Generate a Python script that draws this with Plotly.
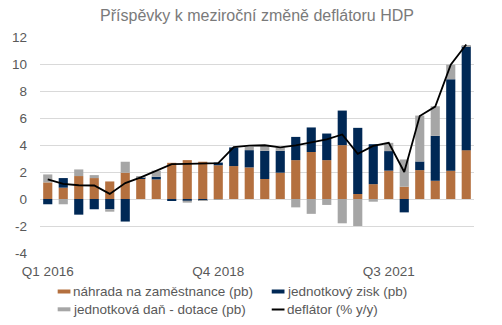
import plotly.graph_objects as go

# Quarterly contributions to the year-on-year change of the GDP deflator
quarters = [f"Q{q} {y}" for y in range(2016, 2023) for q in range(1, 5)]

compensation = [1.23, 0.84, 1.70, 1.55, 1.30, 1.95, 1.55, 1.45, 2.68, 2.88, 2.76, 2.50, 2.44, 2.34,
                1.48, 1.95, 2.88, 3.48, 2.88, 3.99, 0.37, 1.10, 2.10, 0.91, 2.14, 1.35, 2.10, 3.62]
unit_profit = [-0.39, 0.71, -1.16, -0.76, -0.76, -1.67, 0.05, 0.20, -0.08, -0.12, -0.08, 0.20, 1.38, 1.28,
               2.09, 1.62, 1.72, 1.82, 1.97, 2.56, 4.90, 2.96, 1.45, -0.99, 0.64, 3.33, 6.77, 7.71]
unit_tax = [0.59, -0.39, 0.49, 0.22, -0.18, 0.81, 0.05, 0.45, 0.00, -0.15, -0.05, -0.05, 0.00, 0.25,
            0.37, 0.25, -0.62, -1.10, -0.44, -1.80, -2.00, -0.20, 0.61, 2.02, 3.40, 2.19, 1.08, 0.05]
deflator = [1.45, 1.12, 1.02, 1.00, 0.38, 1.18, 1.60, 2.10, 2.58, 2.60, 2.60, 2.65, 3.85, 3.95,
            3.98, 3.82, 3.97, 4.20, 4.42, 4.78, 3.35, 3.93, 4.16, 2.00, 6.15, 6.85, 9.95, 11.45]

shown_ticks = ["Q1 2016", "Q4 2018", "Q3 2021"]
y_ticks = list(range(-4, 13, 2))
y_tick_text = [str(v) for v in y_ticks]

ORANGE = "#B4703F"
NAVY = "#002855"
GREY = "#A6A6A6"
TEXT = "#595959"
FONT = "Liberation Sans, Arial, sans-serif"

W, H = 502, 325
L, R, T, B = 32, 28, 37, 72
PW, PH = W - L - R, H - T - B

fig = go.Figure()
fig.add_bar(x=quarters, y=compensation, marker_color=ORANGE, name="náhrada na zaměstnance (pb)")
fig.add_bar(x=quarters, y=unit_profit, marker_color=NAVY, name="jednotkový zisk (pb)")
fig.add_bar(x=quarters, y=unit_tax, marker_color=GREY, name="jednotková daň - dotace (pb)")
fig.add_scatter(x=quarters, y=deflator, mode="lines", line=dict(color="black", width=1.8),
                name="deflátor (% y/y)")
fig.update_traces(showlegend=False)
fig.update_traces(selector=dict(type="bar"), marker_line_width=0)


def px_x(px):
    return (px - L) / PW


def px_y(py):
    return (H - B - py) / PH


# Legend drawn as key swatches with text labels
legend_items = [
    ("náhrada na zaměstnance (pb)", ORANGE, "rect", 50, 291.5),
    ("jednotkový zisk (pb)", NAVY, "rect", 268, 291.5),
    ("jednotková daň - dotace (pb)", GREY, "rect", 50, 309.3),
    ("deflátor (% y/y)", "black", "line", 268, 309.5),
]
shapes = []
annotations = []
for label, color, kind, x0, yc in legend_items:
    if kind == "rect":
        shapes.append(dict(type="rect", xref="paper", yref="paper",
                           x0=px_x(x0), x1=px_x(x0 + 13), y0=px_y(yc + 2), y1=px_y(yc - 2),
                           fillcolor=color, line=dict(width=0)))
    else:
        shapes.append(dict(type="line", xref="paper", yref="paper",
                           x0=px_x(x0), x1=px_x(x0 + 13), y0=px_y(yc), y1=px_y(yc),
                           line=dict(color=color, width=2)))
    annotations.append(dict(text=label, xref="paper", yref="paper", x=px_x(x0 + 13.5), y=px_y(yc),
                            xanchor="left", yanchor="middle", showarrow=False,
                            font=dict(size=13.5, color=TEXT, family=FONT)))

fig.update_layout(
    width=W, height=H,
    margin=dict(l=L, r=R, t=T, b=B),
    paper_bgcolor="white", plot_bgcolor="white",
    barmode="relative", bargap=0.41,
    title=dict(text="Příspěvky k meziroční změně deflátoru HDP", x=0.5, xref="paper",
               y=1 - 15 / H, yanchor="middle",
               font=dict(size=16, color="#7A7A7A", family=FONT)),
    font=dict(family=FONT, size=13.5, color=TEXT),
    showlegend=False,
    shapes=shapes,
    annotations=annotations,
)
fig.update_xaxes(type="category", tickmode="array", tickvals=shown_ticks, ticktext=shown_ticks,
                 showgrid=False, showline=False, zeroline=False, ticks="",
                 ticklabelstandoff=8, tickfont=dict(size=13.5, color=TEXT), tickangle=0)
fig.update_yaxes(range=[-4, 12], tickmode="array", tickvals=y_ticks, ticktext=y_tick_text,
                 showgrid=True, gridcolor="#D9D9D9", gridwidth=1,
                 zeroline=True, zerolinecolor="#D9D9D9", zerolinewidth=1, showline=False, ticks="",
                 ticklabelstandoff=12, tickfont=dict(size=13.5, color=TEXT))

fig.write_html("out.html")
